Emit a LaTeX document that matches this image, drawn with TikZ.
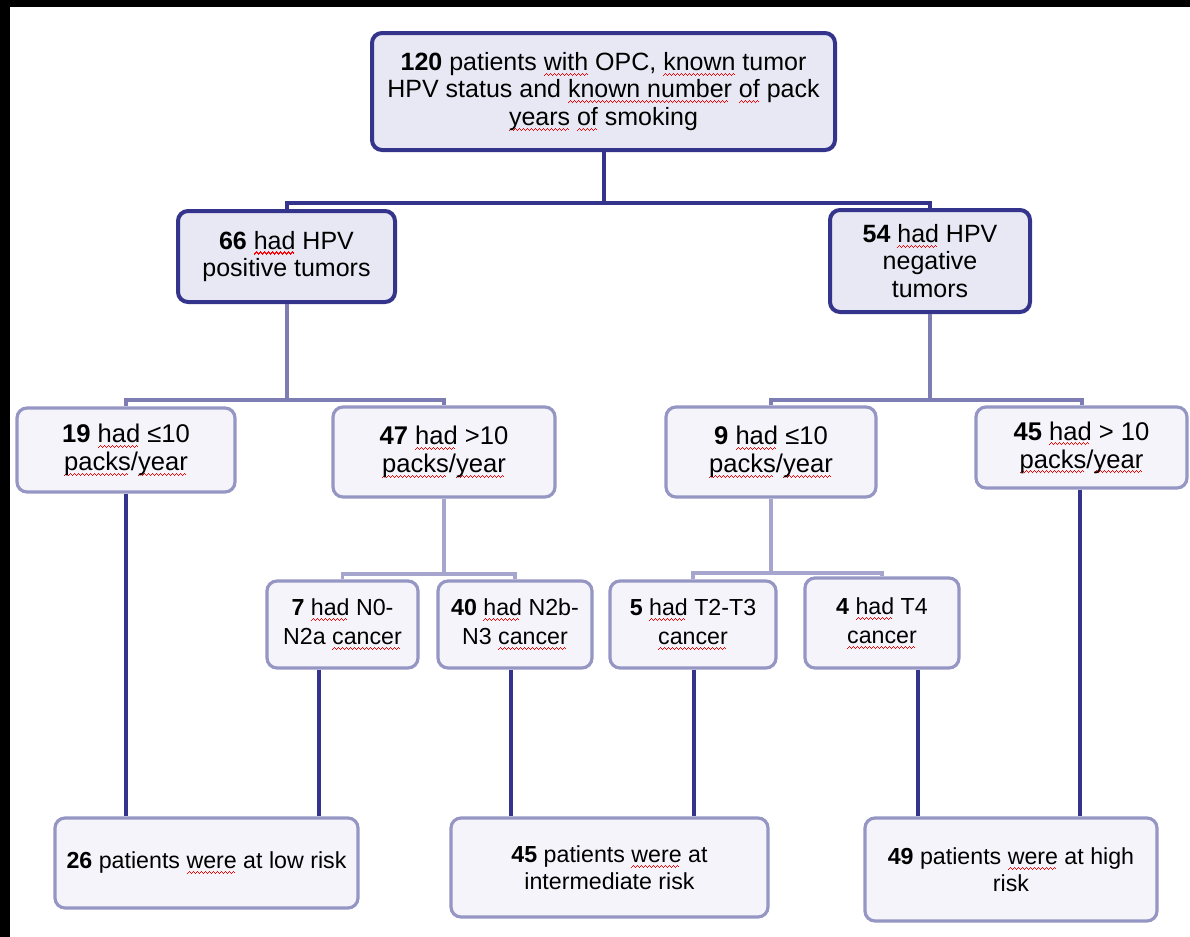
\documentclass[tikz,border=0pt]{standalone}
\usepackage{fontspec}
\setmainfont{Liberation Sans}
\usepackage{tikz}
\usetikzlibrary{positioning}
\definecolor{navy}{RGB}{52, 52, 140}
\definecolor{lavender}{RGB}{232, 232, 244}
\definecolor{paleblue}{RGB}{150, 150, 196}
\definecolor{ghost}{RGB}{244, 244, 250}
\definecolor{slate}{RGB}{125, 125, 180}
\definecolor{mist}{RGB}{165, 165, 205}
% red wavy underline built from tiny rules
\newcommand\wavebit{\rule[-2.7pt]{.5pt}{.55pt}\rule[-2.2pt]{.5pt}{.55pt}\rule[-1.7pt]{.5pt}{.55pt}\rule[-2.2pt]{.5pt}{.55pt}}
\newcommand\spell[1]{\setbox0\hbox{#1}\rlap{\color{red}\hbox to\wd0{\leaders\hbox{\wavebit}\hfill}}#1}
\tikzstyle{rootbox} = [rectangle, rounded corners=5pt, draw=navy, line width=2pt, fill=lavender, align=center, inner sep=0pt, font=\fontsize{12.5}{13.8}\selectfont]
\tikzstyle{leafbox} = [rectangle, rounded corners=5pt, draw=paleblue, line width=1.6pt, fill=ghost, align=center, inner sep=0pt, font=\fontsize{12.8}{14}\selectfont]
\tikzstyle{subbox} = [leafbox, font=\fontsize{11.6}{14.5}\selectfont]
\tikzstyle{riskbox} = [leafbox, font=\fontsize{11.6}{13.5}\selectfont]
\tikzstyle{trunk} = [draw=navy, line width=2pt]
\tikzstyle{branch} = [draw=slate, line width=2pt]
\tikzstyle{twig} = [draw=mist, line width=1.6pt]
\tikzstyle{drop} = [draw=navy, line width=1.7pt]

\begin{document}
\begin{tikzpicture}[x=0.5pt, y=-0.5pt]
\useasboundingbox (0,0) rectangle (1190,937);
\fill[black] (0,0) rectangle (1190,7);
\fill[black] (0,0) rectangle (10,937);

% boxes =============================
\node[rootbox, minimum width=231.5pt, minimum height=58.5pt] (root) at (603.5,91.5)
  {\textbf{120} patients \spell{with} OPC, \spell{known} tumor\\ HPV status and \spell{known number} \spell{of} pack\\ \spell{years} \spell{of} smoking};
\node[rootbox, minimum width=108.5pt, minimum height=45.5pt] (hpvpos) at (286.5,256.5)
  {\textbf{66} \spell{had} HPV\\ positive tumors};
\node[rootbox, minimum width=100pt, minimum height=51pt] (hpvneg) at (930,261)
  {\textbf{54} \spell{had} HPV\\ negative\\ tumors};

\node[leafbox, minimum width=109pt, minimum height=42pt] (low19) at (126,450)
  {\textbf{19} \spell{had} ≤10\\ \spell{packs}/\spell{year}};
\node[leafbox, minimum width=111pt, minimum height=45pt] (high47) at (444,452)
  {\textbf{47} \spell{had} >10\\ \spell{packs}/\spell{year}};
\node[leafbox, minimum width=105pt, minimum height=45pt] (low9) at (771,452)
  {\textbf{9} \spell{had} ≤10\\ \spell{packs}/\spell{year}};
\node[leafbox, minimum width=105.5pt, minimum height=40.5pt] (high45) at (1081.5,447.5)
  {\textbf{45} \spell{had} > 10\\ \spell{packs}/\spell{year}};

\node[subbox, minimum width=75.5pt, minimum height=43.5pt] (n0) at (342.5,624.5)
  {\textbf{7} \spell{had} N0-\\ N2a \spell{cancer}};
\node[subbox, minimum width=77pt, minimum height=43.5pt] (n2b) at (515,624.5)
  {\textbf{40} \spell{had} N2b-\\ N3 \spell{cancer}};
\node[subbox, minimum width=83pt, minimum height=43.5pt] (t23) at (693,624.5)
  {\textbf{5} \spell{had} T2-T3\\ \spell{cancer}};
\node[subbox, minimum width=77pt, minimum height=45pt] (t4) at (882,623)
  {\textbf{4} \spell{had} T4\\ \spell{cancer}};

\node[riskbox, minimum width=151.5pt, minimum height=45pt] (risklow) at (206.5,863)
  {\textbf{26} patients \spell{were} at low risk};
\node[riskbox, minimum width=158.5pt, minimum height=49.5pt] (riskint) at (609.5,867.5)
  {\textbf{45} patients \spell{were} at\\ intermediate risk};
\node[riskbox, minimum width=146pt, minimum height=51.5pt] (riskhigh) at (1011,869.5)
  {\textbf{49} patients \spell{were} at high\\ risk};

% edges
\coordinate (split1) at (603.5,203);
\coordinate (split2) at (286.5,400);
\coordinate (split3) at (930,400);
\coordinate (split4) at (444,574);
\coordinate (split5) at (771,573);

\path[trunk] (root) -- (split1);
\path[trunk] (hpvpos.north) |- (split1) -| (hpvneg.north);
\path[branch] (hpvpos) -- (split2);
\path[branch] (low19.north) |- (split2) -| (high47.north);
\path[branch] (hpvneg) -- (split3);
\path[branch] (low9.north) |- (split3) -| (high45.north);
\path[twig] (high47) -- (split4);
\path[twig] (n0.north) |- (split4) -| (n2b.north);
\path[twig] (low9) -- (split5);
\path[twig] (t23.north) |- (split5) -| (t4.north);

\foreach \from/\to/\x in {low19/risklow/126, n0/risklow/319, n2b/riskint/511, t23/riskint/694, t4/riskhigh/918, high45/riskhigh/1080}
  \path[drop] (\from.south -| \x,0) -- (\x,0 |- \to.north);

\end{tikzpicture}
\end{document}
